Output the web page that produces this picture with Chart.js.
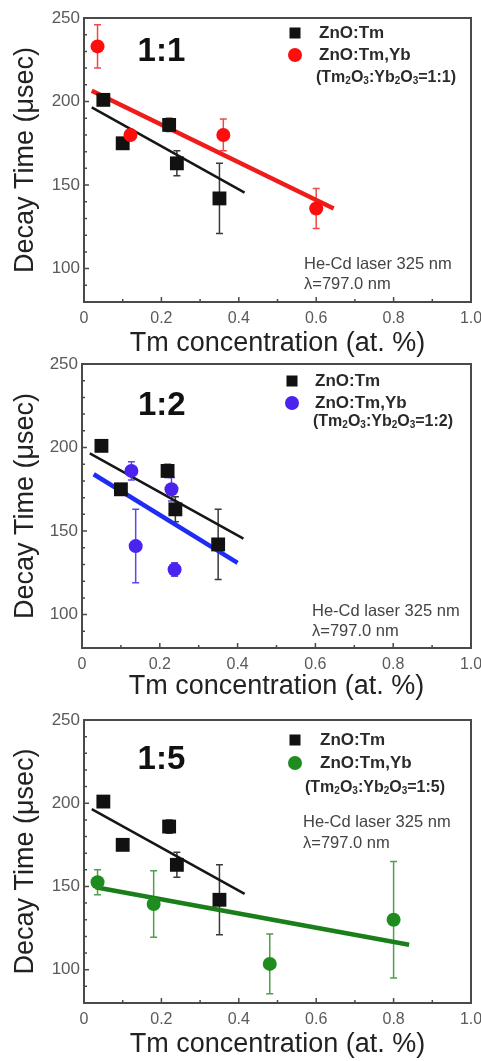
<!DOCTYPE html>
<html>
<head>
<meta charset="utf-8">
<script src="https://cdn.jsdelivr.net/npm/chart.js@4.4.1/dist/chart.umd.min.js"></script>
<style>
  html, body { margin: 0; padding: 0; background: #fff; }
  #wrap { position: relative; width: 481px; height: 1061px; overflow: hidden; }
  #wrap canvas { position: absolute; left: 0; }
</style>
</head>
<body>
<div id="wrap">
  <canvas id="p11"></canvas>
  <canvas id="p12"></canvas>
  <canvas id="p15"></canvas>
</div>
<script>
const FONT = "'Liberation Sans', Arial, Helvetica, sans-serif";

// ZnO:Tm series, repeated in every panel
const tmX = [0.05, 0.10, 0.22, 0.24, 0.35];
const tmY = [201, 175, 186, 163, 142];
const tmErr = [2, 2, 4, 7.5, 21];
const tmFitX = [0.02, 0.415];
const tmFitY = [196.5, 145.5];

// ZnO:Tm,Yb  Tm2O3:Yb2O3 = 1:1
const yb11X = [0.035, 0.12, 0.36, 0.60];
const yb11Y = [233, 180, 180, 136];
const yb11Err = [13, 2, 9.5, 12];
const yb11FitX = [0.02, 0.645];
const yb11FitY = [206.5, 136];

// ZnO:Tm,Yb  Tm2O3:Yb2O3 = 1:2
const yb12X = [0.127, 0.138, 0.23, 0.238];
const yb12Y = [186, 141, 175, 127];
const yb12Err = [5.5, 22, 7, 4];
const yb12FitX = [0.03, 0.40];
const yb12FitY = [184, 131];

// ZnO:Tm,Yb  Tm2O3:Yb2O3 = 1:5
const yb15X = [0.035, 0.18, 0.48, 0.80];
const yb15Y = [152.5, 139.5, 103.5, 130];
const yb15Err = [7.5, 20, 18, 35];
const yb15FitX = [0.03, 0.84];
const yb15FitY = [149.5, 115];

const xTicks = [0, 0.2, 0.4, 0.6, 0.8, 1.0];
const yTicks = [100, 150, 200, 250];
const ratios = ['1:1', '1:2', '1:5'];

const pts = (xs, ys) => xs.map((x, i) => ({ x: x, y: ys[i] }));

// vertical error bars with small caps, drawn under the markers
const errorBars = {
  id: 'errorBars',
  beforeDatasetsDraw(chart) {
    const { ctx, scales: { x, y } } = chart;
    chart.data.datasets.forEach(ds => {
      if (!ds.errors) return;
      ctx.save();
      ctx.strokeStyle = ds.errorColor;
      ctx.lineWidth = 1.5;
      ctx.beginPath();
      ds.data.forEach((pt, i) => {
        const e = ds.errors[i];
        const px = x.getPixelForValue(pt.x);
        const top = y.getPixelForValue(pt.y + e);
        const bot = y.getPixelForValue(pt.y - e);
        ctx.moveTo(px, top); ctx.lineTo(px, bot);
        ctx.moveTo(px - 3.5, top); ctx.lineTo(px + 3.5, top);
        ctx.moveTo(px - 3.5, bot); ctx.lineTo(px + 3.5, bot);
      });
      ctx.stroke();
      ctx.restore();
    });
  }
};

// box frame plus inward minor/major ticks
const frame = {
  id: 'frame',
  afterDatasetsDraw(chart) {
    const { ctx, chartArea: a, scales: { x, y } } = chart;
    ctx.save();
    ctx.strokeStyle = '#4a4a4a';
    ctx.lineWidth = 2;
    ctx.strokeRect(a.left, a.top, a.right - a.left, a.bottom - a.top);
    ctx.lineWidth = 1.5;
    ctx.beginPath();
    for (let v = 90; v < 250; v += 10) {
      const py = y.getPixelForValue(v);
      const len = v % 50 === 0 ? 5 : 3;
      ctx.moveTo(a.left, py); ctx.lineTo(a.left + len, py);
    }
    for (let i = 1; i < 10; i++) {
      const px = x.getPixelForValue(i / 10);
      const len = i % 2 === 0 ? 5 : 3;
      ctx.moveTo(px, a.bottom); ctx.lineTo(px, a.bottom - len);
    }
    ctx.stroke();
    ctx.restore();
  }
};

// text runs with subscripts: [text, isSub]
function drawRich(ctx, parts, x, y, size) {
  let cx = x;
  parts.forEach(([t, sub]) => {
    ctx.font = 'bold ' + (sub ? Math.round(size * 0.62) : size) + 'px ' + FONT;
    ctx.fillText(t, cx, sub ? y + size * 0.22 : y);
    cx += ctx.measureText(t).width;
  });
}

// ratio label, legend and laser note
const panelText = {
  id: 'panelText',
  afterDraw(chart, args, o) {
    const { ctx, chartArea: a, scales: { x, y } } = chart;
    ctx.save();
    ctx.textBaseline = 'middle';

    ctx.fillStyle = '#111';
    ctx.textAlign = 'center';
    ctx.font = 'bold 33px ' + FONT;
    ctx.fillText(o.ratio, x.getPixelForValue(o.ratioAt[0]), y.getPixelForValue(o.ratioAt[1]));

    const L = o.legend;
    const mx = a.left + L.markX;
    ctx.fillStyle = '#111';
    ctx.fillRect(mx - 5.5, a.top + L.rows[0] - 5.5, 11, 11);
    ctx.fillStyle = o.color;
    ctx.beginPath();
    ctx.arc(mx, a.top + L.rows[1], 7, 0, Math.PI * 2);
    ctx.fill();

    ctx.textAlign = 'left';
    ctx.fillStyle = '#2a2a2a';
    ctx.font = 'bold 17px ' + FONT;
    ctx.fillText('ZnO:Tm', a.left + L.textX, a.top + L.rows[0]);
    ctx.fillText('ZnO:Tm,Yb', a.left + L.textX, a.top + L.rows[1]);
    drawRich(ctx, [['(Tm', 0], ['2', 1], ['O', 0], ['3', 1], [':Yb', 0], ['2', 1], ['O', 0], ['3', 1], ['=' + o.ratio + ')', 0]],
      a.left + L.subX, a.top + L.rows[2], 16);

    const N = o.note;
    ctx.fillStyle = '#444';
    ctx.font = '16.5px ' + FONT;
    ctx.fillText('He-Cd laser 325 nm', a.left + N.x, a.top + N.y[0]);
    ctx.fillText('\u03bb=797.0 nm', a.left + N.x, a.top + N.y[1]);
    ctx.restore();
  }
};

function makePanel(id, p) {
  const canvas = document.getElementById(id);
  const h = Math.round(p.titleY - p.top + 16.2);
  canvas.width = 481;
  canvas.height = h;
  canvas.style.top = p.top + 'px';

  new Chart(canvas, {
    type: 'scatter',
    data: {
      datasets: [
        { data: pts(p.fitX, p.fitY), showLine: true, borderColor: p.lineColor, borderWidth: 4.5,
          pointRadius: 0, order: 4 },
        { data: pts(tmFitX, tmFitY), showLine: true, borderColor: '#161616', borderWidth: 2.5,
          pointRadius: 0, order: 3 },
        { data: pts(tmX, tmY), errors: tmErr, errorColor: '#3a3a3a', pointStyle: 'rect',
          pointRadius: 9.8, backgroundColor: '#111', borderWidth: 0, order: 2 },
        { data: pts(p.x, p.y), errors: p.err, errorColor: p.errColor, pointStyle: 'circle',
          pointRadius: 7, backgroundColor: p.color, borderWidth: 0, order: 1 }
      ]
    },
    options: {
      responsive: false,
      animation: false,
      devicePixelRatio: 1,
      events: [],
      layout: { padding: { top: p.areaTop - p.top, right: 481 - p.right, left: 0, bottom: 0 } },
      plugins: {
        legend: { display: false },
        tooltip: { enabled: false },
        panelText: { ratio: p.ratio, ratioAt: p.ratioAt, color: p.color, legend: p.legend, note: p.note }
      },
      scales: {
        x: {
          type: 'linear', min: 0, max: 1,
          afterBuildTicks: s => { s.ticks = xTicks.map(v => ({ value: v })); },
          afterFit: s => { s.height = h - (p.areaBottom - p.top); s.paddingLeft = 0; s.paddingRight = 0; },
          grid: { display: false, drawTicks: false },
          border: { display: false },
          ticks: {
            color: '#5a5a5a', padding: 7, maxRotation: 0, autoSkip: false,
            font: { size: 16, family: FONT },
            callback: v => v === 0 ? '0' : v.toFixed(1)
          },
          title: { display: true, text: 'Tm concentration (at. %)', color: '#222',
                   font: { size: 27, family: FONT }, padding: { top: 0, bottom: 0 } }
        },
        y: {
          type: 'linear', min: 80, max: 250,
          afterBuildTicks: s => { s.ticks = yTicks.map(v => ({ value: v })); },
          afterFit: s => { s.width = p.left; s.paddingTop = 0; s.paddingBottom = 0; },
          grid: { display: false, drawTicks: false },
          border: { display: false },
          ticks: { color: '#5a5a5a', padding: 4, font: { size: 17, family: FONT } },
          title: { display: true, text: 'Decay Time (\u03bcsec)', color: '#222',
                   font: { size: 27, family: FONT }, padding: { top: 9, bottom: 0 } }
        }
      }
    },
    plugins: [errorBars, frame, panelText]
  });
}

makePanel('p11', {
  top: 0, areaTop: 18, areaBottom: 302, left: 84, right: 471, titleY: 344,
  x: yb11X, y: yb11Y, err: yb11Err, fitX: yb11FitX, fitY: yb11FitY,
  color: '#ff0d0d', lineColor: '#f01c1c', errColor: '#f04848',
  ratio: ratios[0], ratioAt: [0.2, 230],
  legend: { markX: 211, textX: 235, subX: 232, rows: [15, 37, 60] },
  note: { x: 220, y: [246, 266] }
});

makePanel('p12', {
  top: 350, areaTop: 364, areaBottom: 648, left: 82, right: 471, titleY: 687,
  x: yb12X, y: yb12Y, err: yb12Err, fitX: yb12FitX, fitY: yb12FitY,
  color: '#4b22ee', lineColor: '#1f2cf2', errColor: '#5a48ee',
  ratio: ratios[1], ratioAt: [0.205, 225],
  legend: { markX: 210, textX: 233, subX: 231, rows: [17, 39, 58] },
  note: { x: 230, y: [247, 267] }
});

makePanel('p15', {
  top: 705, areaTop: 720, areaBottom: 1003, left: 84, right: 471, titleY: 1045,
  x: yb15X, y: yb15Y, err: yb15Err, fitX: yb15FitX, fitY: yb15FitY,
  color: '#1e8c1e', lineColor: '#1a7f1a', errColor: '#4f9f4f',
  ratio: ratios[2], ratioAt: [0.2, 226],
  legend: { markX: 211, textX: 236, subX: 221, rows: [20, 43, 68] },
  note: { x: 219, y: [102, 123] }
});
</script>
</body>
</html>
